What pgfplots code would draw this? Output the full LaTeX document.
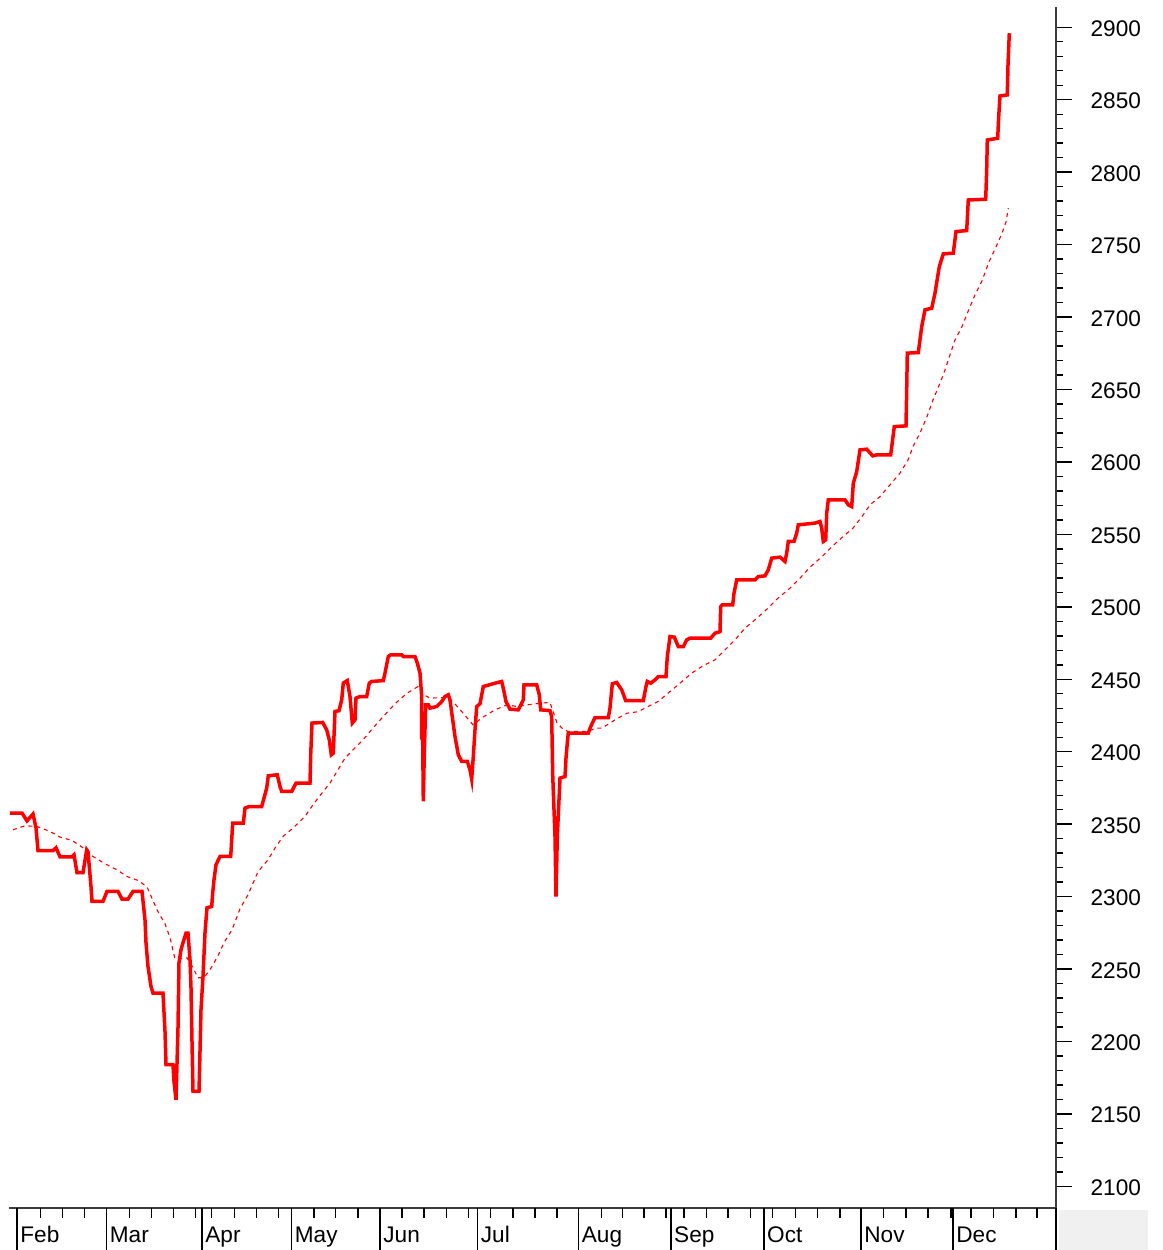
\documentclass[border=0pt]{standalone}
\usepackage{fontspec}
\setmainfont{Liberation Sans}
\usepackage{pgfplots}
\pgfplotsset{compat=1.18}
\definecolor{axisgray}{RGB}{60,60,60}
\definecolor{boxgray}{RGB}{240,240,240}
\begin{document}
\begin{tikzpicture}[x=1pt,y=1pt]
\useasboundingbox (0,0) rectangle (581.5,625);
\fill[boxgray] (529.5,0) rectangle (574,20);
\begin{axis}[
  at={(4.5pt,21pt)}, anchor=south west,
  scale only axis, width=523.5pt, height=600.5pt,
  xmin=9, xmax=1056, ymin=2085.1, ymax=2914.0,
  axis x line*=bottom, axis y line*=right,
  axis line style={-, axisgray, line width=1.1pt},
  tick align=outside,
  tick style={black, line width=0.7pt},
  ytick={2100,2150,...,2900},
  minor y tick num=4,
  major tick length=8pt,
  minor tick length=3.5pt,
  xtick={17,106.5,202,291.5,380,477.5,578.5,670.8,763.8,861,953},
  xticklabels={Feb,Mar,Apr,May,Jun,Jul,Aug,Sep,Oct,Nov,Dec},
  x tick style={draw=none},
  ticklabel style={font=\fontsize{11.3}{13}\selectfont},
  /pgf/number format/assume math mode=true,
  /pgf/number format/1000 sep={},
  yticklabel style={anchor=west, xshift=5.8pt, yshift=-0.6pt},
  xticklabel style={anchor=base west, inner xsep=0.5pt, xshift=1pt, yshift=-9pt},
  clip=false,
]
\addplot[red, line width=1.75pt, line join=miter] coordinates {
(10,2357.7) (22,2357.7) (27,2352.3) (33,2357.0) (36,2347.5) (38,2331.8) (53,2331.8) (56,2333.7) (60,2327.5) (72,2327.5) (74,2328.9) (77,2316.5) (83,2316.5) (86.7,2332.3) (88,2331.0) (91,2307.0) (92,2296.7) (103,2296.7) (107,2303.6) (118,2303.6) (122,2298.3) (128,2298.3) (133,2303.6) (142,2303.6) (145,2284.0) (146,2268.2) (148,2251.8) (151,2238.0) (153,2233.4) (163,2233.4) (165,2207.0) (166,2184.0) (173,2184.0) (174,2172.5) (176,2159.8) (178,2209.5) (179,2254.4) (181,2263.3) (183,2268.2) (186,2274.8) (188,2274.8) (190,2256.4) (191,2237.1) (192,2200.1) (193,2165.6) (199,2165.6) (200,2193.2) (201,2222.0) (203,2244.9) (205,2275.1) (207,2292.3) (211.7,2293.2) (212.7,2302.5) (214,2311.6) (216,2322.0) (220,2327.7) (230.7,2327.7) (231.7,2339.2) (232.7,2350.7) (243.3,2350.7) (245,2361.1) (249.3,2362.2) (261.7,2362.2) (264,2368.0) (266.7,2374.9) (268.3,2383.4) (277.3,2384.1) (280,2376.0) (281.7,2372.6) (291.7,2372.6) (296,2378.3) (310,2378.3) (310.7,2397.9) (312,2419.8) (322.7,2420.2) (326.7,2415.1) (329.3,2408.2) (331.3,2397.9) (333.3,2399.0) (335,2427.8) (339,2428.3) (341.7,2435.8) (343.3,2447.4) (347.3,2449.1) (350,2438.1) (352.3,2419.8) (355,2422.0) (356,2437.0) (360,2438.1) (366.7,2438.1) (369.3,2447.4) (371.7,2448.5) (383.3,2449.1) (385,2454.3) (388.3,2465.7) (390.7,2466.9) (401.7,2466.9) (403.3,2465.7) (415,2465.7) (417.3,2461.2) (420,2454.3) (421.7,2438.1) (421.7,2409.4) (422.7,2408.2) (423.3,2365.7) (424.3,2399.0) (425.7,2432.4) (428.3,2432.4) (430,2430.1) (436.7,2431.2) (441.7,2434.6) (445,2438.1) (448.3,2439.3) (450,2435.8) (452.7,2422.0) (455,2410.5) (458.3,2397.9) (461.7,2393.3) (467.3,2393.3) (470,2387.5) (471.7,2381.1) (473.3,2396.7) (475,2415.1) (476.7,2431.2) (480,2433.1) (481.7,2439.3) (483.3,2445.0) (495,2447.3) (501.7,2448.5) (504,2441.6) (506,2434.6) (510,2429.4) (518.3,2428.9) (523.3,2435.8) (524,2446.2) (536.7,2446.2) (539.3,2439.3) (540.7,2428.9) (550,2428.4) (551.7,2424.3) (552.7,2384.1) (555,2341.5) (556,2300.1) (557.3,2341.5) (560,2381.8) (565,2382.9) (566,2395.6) (567.3,2406.0) (568.3,2412.9) (588.3,2412.9) (590.7,2417.4) (595,2423.6) (608.3,2423.6) (610,2430.1) (612.3,2446.9) (616.7,2447.8) (621.7,2442.7) (625.7,2435.3) (643.3,2435.3) (646,2445.0) (647.3,2448.5) (650.7,2447.3) (655,2449.6) (658.3,2451.9) (666,2451.9) (667.3,2465.7) (670,2479.5) (674.3,2479.1) (678.3,2472.6) (683.3,2472.6) (686.7,2477.2) (690,2478.4) (710.7,2478.4) (715,2481.8) (720,2482.9) (720.7,2500.2) (722.3,2501.4) (732.7,2501.4) (734,2509.4) (736.7,2518.6) (755,2518.6) (758.3,2520.9) (765,2521.4) (768.3,2525.5) (771.7,2533.6) (780,2534.3) (785,2531.3) (786.7,2537.1) (788.3,2545.1) (794,2545.1) (796.7,2550.9) (798.3,2556.6) (815,2557.8) (820,2558.9) (821.7,2554.3) (823.3,2545.1) (825.7,2546.2) (826.7,2564.6) (828.3,2573.8) (845,2573.8) (848.3,2570.4) (851.7,2569.2) (853.3,2585.3) (856.7,2593.3) (860,2608.3) (866.7,2608.8) (872.7,2604.2) (876.7,2604.9) (890.7,2604.9) (894.3,2624.4) (906,2624.9) (906.7,2649.7) (907.3,2675.1) (918.3,2675.5) (921.7,2693.4) (925,2705.0) (931.7,2706.1) (935,2716.5) (939.3,2734.8) (943.3,2743.6) (953.3,2744.1) (956,2759.0) (966.7,2759.7) (968.3,2780.8) (985.7,2781.3) (986.7,2801.5) (987.3,2822.2) (997.7,2823.4) (998.7,2838.3) (1000,2852.6) (1007.3,2853.3) (1008,2874.0) (1009.3,2895.9)
};
\addplot[red, line width=0.55pt, dash pattern=on 2pt off 2pt] coordinates {
(13,2346.1) (25,2348.9) (37,2348.4) (50,2345.0) (60,2341.1) (72,2338.8) (82,2334.2) (93,2327.7) (105,2322.7) (117,2318.5) (127,2313.9) (138,2311.2) (147,2306.8) (153,2297.2) (158,2289.6) (165,2281.3) (170,2271.6) (175,2257.1) (181,2257.1) (187,2257.8) (192,2252.3) (198,2244.0) (204,2244.0) (211,2250.7) (218,2259.2) (224,2268.2) (232,2277.1) (240,2291.6) (248,2301.3) (258,2317.2) (268,2325.4) (275,2333.5) (283,2341.5) (293,2347.3) (305,2355.3) (313,2363.4) (322,2371.5) (330,2378.4) (337,2386.4) (345,2395.6) (353,2401.3) (363,2408.2) (373,2416.3) (383,2424.1) (395,2433.1) (407,2440.4) (418,2445.0) (424,2439.3) (430,2437.0) (443,2437.4) (453,2434.6) (463,2426.7) (473,2418.6) (483,2423.9) (495,2428.9) (507,2432.4) (517,2431.2) (528,2432.4) (540,2433.5) (550,2434.0) (557,2420.0) (562,2416.3) (568,2414.0) (587,2414.0) (597,2416.3) (602,2416.3) (615,2422.0) (627,2426.6) (638,2427.6) (648,2431.2) (658,2434.6) (668,2440.4) (680,2447.3) (692,2454.4) (703,2459.3) (715,2463.4) (725,2470.3) (735,2477.2) (745,2485.3) (757,2492.2) (768,2499.1) (778,2506.0) (790,2512.9) (800,2519.8) (810,2527.4) (822,2534.7) (832,2541.6) (843,2548.5) (853,2554.3) (862,2562.3) (870,2570.4) (880,2576.1) (890,2584.2) (900,2592.3) (908,2601.4) (913,2610.6) (920,2619.9) (927,2631.3) (933,2642.8) (940,2654.4) (945,2663.5) (950,2673.9) (955,2684.2) (962,2693.4) (968,2703.8) (975,2715.3) (982,2725.0) (989,2738.1) (996,2748.4) (1002,2757.9) (1006,2765.7) (1008.3,2775.1)
};
\end{axis}
% month separators and weekly ticks below the axis (1px = 0.5pt)
\foreach \m in {17,106.5,202,291.5,380,477.5,578.5,670.8,763.8,861,953,1056}
  \draw[black, line width=0.7pt] (\m*0.5,21) -- (\m*0.5,0);
\foreach \w in {40.2,62.4,84.6,129.4,151.5,173.4,195.6,211.6,234.2,256.4,278.6,313.8,335.6,357.8,401.8,424.0,446.2,468.4,490.6,512.8,534.8,556.8,601.5,622.7,643.8,665.8,683.8,706.2,728.1,750.4,772.7,795.4,817.7,840,883.5,905.8,928,950.8,970.8,993.5,1015.8,1037}
  \draw[black, line width=0.7pt] (\w*0.5,21) -- (\w*0.5,16);
\end{tikzpicture}
\end{document}
